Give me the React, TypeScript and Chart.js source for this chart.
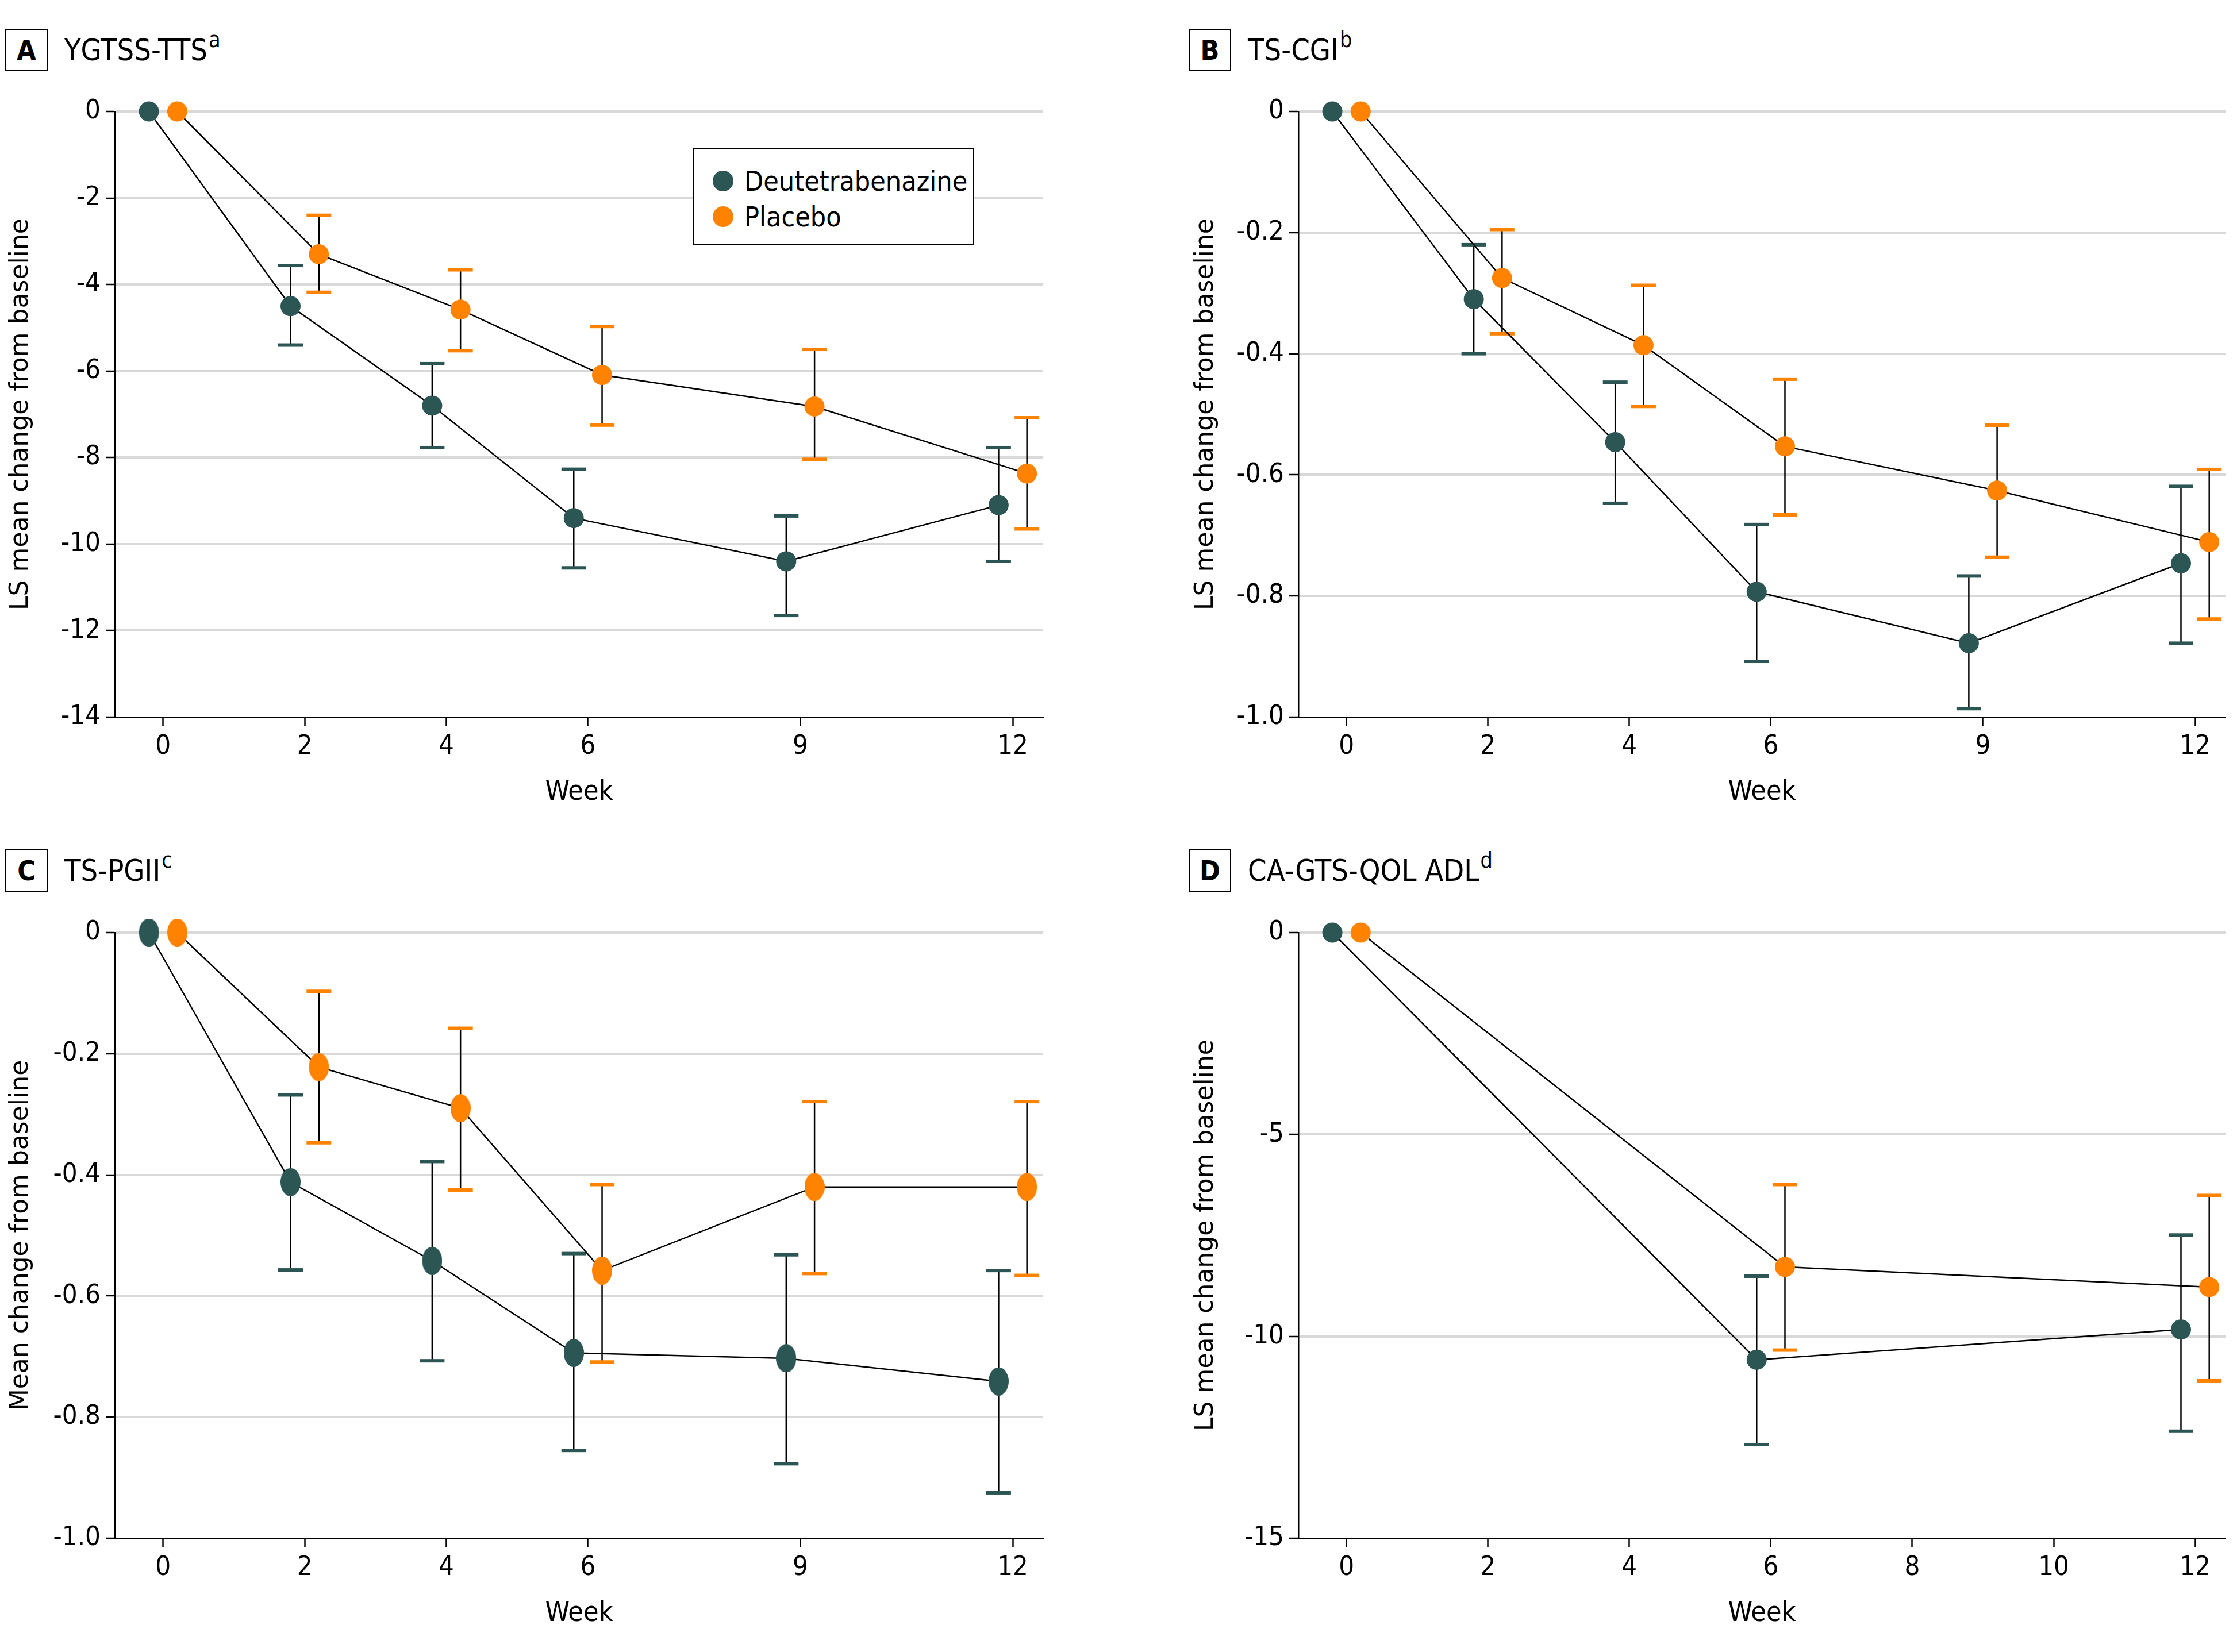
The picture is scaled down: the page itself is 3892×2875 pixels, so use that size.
import React, { useEffect, useRef } from 'react';
import { Chart, registerables } from 'chart.js';

Chart.register(...registerables);

// ---------------- data ----------------
const seriesNames = ['Deutetrabenazine', 'Placebo'];

const weeksMain = [0, 2, 4, 6, 9, 12];
const weeksAdl = [0, 6, 12];
const weekTicksMain = [0, 2, 4, 6, 9, 12];
const weekTicksAdl = [0, 2, 4, 6, 8, 10, 12];

// A: YGTSS-TTS
const ttsDeut = [0, -4.5, -6.8, -9.4, -10.4, -9.1];
const ttsDeutLow = [null, -5.4, -7.77, -10.55, -11.65, -10.4];
const ttsDeutHigh = [null, -3.56, -5.83, -8.27, -9.35, -7.77];
const ttsPlac = [0, -3.3, -4.58, -6.09, -6.82, -8.37];
const ttsPlacLow = [null, -4.18, -5.53, -7.25, -8.04, -9.65];
const ttsPlacHigh = [null, -2.4, -3.66, -4.97, -5.5, -7.08];
const ttsYTicks = [0, -2, -4, -6, -8, -10, -12, -14];
const ttsYLabels = ['0', '-2', '-4', '-6', '-8', '-10', '-12', '-14'];

// B: TS-CGI
const cgiDeut = [0, -0.31, -0.546, -0.793, -0.878, -0.746];
const cgiDeutLow = [null, -0.4, -0.647, -0.908, -0.986, -0.878];
const cgiDeutHigh = [null, -0.22, -0.447, -0.682, -0.767, -0.619];
const cgiPlac = [0, -0.275, -0.386, -0.553, -0.626, -0.711];
const cgiPlacLow = [null, -0.367, -0.487, -0.666, -0.736, -0.838];
const cgiPlacHigh = [null, -0.195, -0.287, -0.442, -0.518, -0.591];
const fracYTicks = [0, -0.2, -0.4, -0.6, -0.8, -1.0];
const fracYLabels = ['0', '-0.2', '-0.4', '-0.6', '-0.8', '-1.0'];

// C: TS-PGII
const pgiiDeut = [0, -0.412, -0.542, -0.694, -0.703, -0.741];
const pgiiDeutLow = [null, -0.557, -0.707, -0.855, -0.877, -0.925];
const pgiiDeutHigh = [null, -0.268, -0.378, -0.53, -0.532, -0.558];
const pgiiPlac = [0, -0.222, -0.29, -0.558, -0.42, -0.42];
const pgiiPlacLow = [null, -0.347, -0.425, -0.709, -0.563, -0.566];
const pgiiPlacHigh = [null, -0.097, -0.158, -0.416, -0.279, -0.279];

// D: CA-GTS-QOL ADL
const adlDeut = [0, -10.58, -9.83];
const adlDeutLow = [null, -12.68, -12.35];
const adlDeutHigh = [null, -8.51, -7.49];
const adlPlac = [0, -8.28, -8.78];
const adlPlacLow = [null, -10.34, -11.1];
const adlPlacHigh = [null, -6.24, -6.51];
const adlYTicks = [0, -5, -10, -15];
const adlYLabels = ['0', '-5', '-10', '-15'];

// ---------------- styles ----------------
const COND = '"Liberation Sans Narrow", "DejaVu Sans Condensed", "Roboto Condensed", "Noto Sans", sans-serif';
const WIDE = '"DejaVu Sans", Verdana, sans-serif';
const DEUT_COLOR = '#2c5654';
const PLAC_COLOR = '#ff8300';
const GRID = '#d9d9d9';
const OFFSET = 0.2;

const panels: any[] = [
  {
    key: 'A', title: 'YGTSS-TTS', sup: 'a', yTitle: 'LS mean change from baseline',
    weeks: weeksMain, xTicks: weekTicksMain,
    deut: ttsDeut, deutLow: ttsDeutLow, deutHigh: ttsDeutHigh,
    plac: ttsPlac, placLow: ttsPlacLow, placHigh: ttsPlacHigh,
    yTicks: ttsYTicks, yLabels: ttsYLabels, yMin: -14,
    box: { left: 9, top: 50 }, titleLeft: 112,
    canvas: { left: 0, top: 130, right: 1860, bottom: 1440 },
    area: { left: 200, right: 1815, top: 194, bottom: 1248 },
    yTitleX: 37, ellipse: false, legend: true,
  },
  {
    key: 'B', title: 'TS-CGI', sup: 'b', yTitle: 'LS mean change from baseline',
    weeks: weeksMain, xTicks: weekTicksMain,
    deut: cgiDeut, deutLow: cgiDeutLow, deutHigh: cgiDeutHigh,
    plac: cgiPlac, placLow: cgiPlacLow, placHigh: cgiPlacHigh,
    yTicks: fracYTicks, yLabels: fracYLabels, yMin: -1,
    box: { left: 2068, top: 50 }, titleLeft: 2171,
    canvas: { left: 2059, top: 130, right: 3892, bottom: 1440 },
    area: { left: 2259, right: 3872, top: 194, bottom: 1248 },
    yTitleX: 2099, ellipse: false, legend: false,
  },
  {
    key: 'C', title: 'TS-PGII', sup: 'c', yTitle: 'Mean change from baseline',
    weeks: weeksMain, xTicks: weekTicksMain,
    deut: pgiiDeut, deutLow: pgiiDeutLow, deutHigh: pgiiDeutHigh,
    plac: pgiiPlac, placLow: pgiiPlacLow, placHigh: pgiiPlacHigh,
    yTicks: fracYTicks, yLabels: fracYLabels, yMin: -1,
    box: { left: 9, top: 1478 }, titleLeft: 112,
    canvas: { left: 0, top: 1560, right: 1860, bottom: 2875 },
    area: { left: 200, right: 1815, top: 1623, bottom: 2677 },
    yTitleX: 37, ellipse: true, legend: false,
  },
  {
    key: 'D', title: 'CA-GTS-QOL ADL', sup: 'd', yTitle: 'LS mean change from baseline',
    weeks: weeksAdl, xTicks: weekTicksAdl,
    deut: adlDeut, deutLow: adlDeutLow, deutHigh: adlDeutHigh,
    plac: adlPlac, placLow: adlPlacLow, placHigh: adlPlacHigh,
    yTicks: adlYTicks, yLabels: adlYLabels, yMin: -15,
    box: { left: 2068, top: 1478 }, titleLeft: 2171,
    canvas: { left: 2059, top: 1560, right: 3892, bottom: 2875 },
    area: { left: 2259, right: 3872, top: 1623, bottom: 2677 },
    yTitleX: 2099, ellipse: false, legend: false,
  },
];

const errorBarPlugin = {
  id: 'errorBars',
  beforeDatasetsDraw(chart: any) {
    const { ctx, scales } = chart;
    const xs = scales.x;
    const ys = scales.y;
    ctx.save();
    chart.data.datasets.forEach((ds: any) => {
      if (!ds.errLow) return;
      ds.data.forEach((pt: any, i: number) => {
        const lo = ds.errLow[i];
        const hi = ds.errHigh[i];
        if (lo == null || hi == null) return;
        const px = xs.getPixelForValue(pt.x);
        const pLo = ys.getPixelForValue(lo);
        const pHi = ys.getPixelForValue(hi);
        ctx.strokeStyle = '#000';
        ctx.lineWidth = 2.5;
        ctx.beginPath();
        ctx.moveTo(px, pHi);
        ctx.lineTo(px, pLo);
        ctx.stroke();
        ctx.fillStyle = ds.capColor;
        ctx.fillRect(px - 21.5, pHi - 3, 43, 6);
        ctx.fillRect(px - 21.5, pLo - 3, 43, 6);
      });
    });
    ctx.restore();
  },
};

function makeEllipse(color: string, w: number, h: number) {
  const c = document.createElement('canvas');
  c.width = w;
  c.height = h;
  const g = c.getContext('2d')!;
  g.fillStyle = color;
  g.beginPath();
  g.ellipse(w / 2, h / 2, w / 2, h / 2, 0, 0, Math.PI * 2);
  g.fill();
  return c;
}

function Panel({ cfg }: { cfg: any }) {
  const ref = useRef<HTMLCanvasElement>(null);
  const cw = cfg.canvas.right - cfg.canvas.left;
  const ch = cfg.canvas.bottom - cfg.canvas.top;

  useEffect(() => {
    const canvas = ref.current!;
    const mk = (name: string, vals: number[], lo: any[], hi: any[], color: string, off: number) => {
      const ds: any = {
        label: name,
        data: cfg.weeks.map((w: number, i: number) => ({ x: w + off, y: vals[i] })),
        borderColor: '#000',
        borderWidth: 2.5,
        backgroundColor: color,
        pointBackgroundColor: color,
        pointBorderWidth: 0,
        pointRadius: 17.5,
        pointHoverRadius: 17.5,
        showLine: true,
        tension: 0,
        fill: false,
        clip: false,
        errLow: lo,
        errHigh: hi,
        capColor: color,
      };
      if (cfg.ellipse) ds.pointStyle = makeEllipse(color, 35, 49);
      return ds;
    };
    const xTitleFont = 48;
    const yTitleFont = 44;
    const chart = new Chart(canvas, {
      type: 'line',
      data: {
        datasets: [
          mk(seriesNames[0], cfg.deut, cfg.deutLow, cfg.deutHigh, DEUT_COLOR, -OFFSET),
          mk(seriesNames[1], cfg.plac, cfg.placLow, cfg.placHigh, PLAC_COLOR, OFFSET),
        ],
      },
      options: {
        responsive: false,
        animation: false,
        events: [],
        layout: {
          padding: {
            left: 0,
            top: cfg.area.top - cfg.canvas.top,
            right: cfg.canvas.right - cfg.area.right,
            bottom: 0,
          },
        },
        plugins: {
          legend: { display: false },
          tooltip: { enabled: false },
        },
        scales: {
          x: {
            type: 'linear',
            min: -0.68,
            max: 12.43,
            afterBuildTicks: (s: any) => {
              s.ticks = cfg.xTicks.map((v: number) => ({ value: v }));
            },
            afterFit: (s: any) => {
              s.height = cfg.canvas.bottom - cfg.area.bottom;
            },
            ticks: {
              autoSkip: false,
              maxRotation: 0,
              color: '#000',
              padding: 8,
              font: { family: COND, size: 47 },
              callback: (v: any) => String(v),
            },
            grid: {
              display: true,
              drawOnChartArea: false,
              drawTicks: true,
              tickLength: 16,
              tickColor: '#000',
              tickWidth: 2.5,
            },
            border: { display: true, color: '#000', width: 3 },
            title: {
              display: true,
              text: 'Week',
              color: '#000',
              font: { family: COND, size: xTitleFont },
              padding: {
                top: 0,
                bottom: cfg.canvas.bottom - (cfg.area.bottom + 132) - (xTitleFont * 1.2) / 2,
              },
            },
          },
          y: {
            type: 'linear',
            min: cfg.yMin,
            max: 0,
            afterBuildTicks: (s: any) => {
              s.ticks = cfg.yTicks.map((v: number) => ({ value: v }));
            },
            afterFit: (s: any) => {
              s.width = cfg.area.left - cfg.canvas.left;
            },
            ticks: {
              color: '#000',
              padding: 9,
              font: { family: COND, size: 47 },
              callback: (v: any) => {
                const idx = cfg.yTicks.indexOf(v);
                return idx >= 0 ? cfg.yLabels[idx] : '';
              },
            },
            grid: {
              color: (c: any) => (c.tick && c.tick.value === cfg.yMin ? 'rgba(0,0,0,0)' : GRID),
              lineWidth: 4,
              drawTicks: true,
              tickLength: 16,
              tickColor: '#000',
              tickWidth: 2.5,
            },
            border: { display: true, color: '#000', width: 2.5 },
            title: {
              display: true,
              text: cfg.yTitle,
              color: '#000',
              font: { family: WIDE, size: yTitleFont },
              padding: { top: cfg.yTitleX - cfg.canvas.left - (yTitleFont * 1.2) / 2, bottom: 0 },
            },
          },
        },
      } as any,
      plugins: [errorBarPlugin as any],
    });
    return () => chart.destroy();
  }, []);

  return (
    <>
      <canvas
        ref={ref}
        width={cw}
        height={ch}
        style={{ position: 'absolute', left: cfg.canvas.left, top: cfg.canvas.top, width: cw, height: ch }}
      />
      <div
        style={{
          position: 'absolute', left: cfg.box.left, top: cfg.box.top, width: 74, height: 74,
          border: '2.5px solid #000', boxSizing: 'border-box', display: 'flex',
          alignItems: 'center', justifyContent: 'center',
          fontFamily: COND, fontWeight: 'bold', fontSize: 48, color: '#000', lineHeight: 1,
        }}
      >
        {cfg.key}
      </div>
      <div
        style={{
          position: 'absolute', left: cfg.titleLeft, top: cfg.box.top, height: 74,
          display: 'flex', alignItems: 'center', fontFamily: COND, fontSize: 52,
          color: '#000', lineHeight: 1, whiteSpace: 'nowrap',
        }}
      >
        <span>
          {cfg.title}
          <sup style={{ fontSize: '0.72em', verticalAlign: 'top', position: 'relative', top: -10, marginLeft: 2 }}>{cfg.sup}</sup>
        </span>
      </div>
      {cfg.legend && (
        <div
          style={{
            position: 'absolute', left: 1205, top: 258, width: 490, height: 168,
            border: '2.5px solid #000', boxSizing: 'border-box', background: '#fff',
            fontFamily: COND, fontSize: 48, color: '#000',
          }}
        >
          {[DEUT_COLOR, PLAC_COLOR].map((c, i) => (
            <div
              key={i}
              style={{ position: 'absolute', left: 0, top: 55 + i * 62 - 30, height: 60, display: 'flex', alignItems: 'center' }}
            >
              <div style={{ width: 36, height: 36, borderRadius: '50%', background: c, marginLeft: 33 }} />
              <div style={{ marginLeft: 19, lineHeight: 1 }}>{seriesNames[i]}</div>
            </div>
          ))}
        </div>
      )}
    </>
  );
}

export default function App() {
  return (
    <div style={{ position: 'absolute', left: 0, top: 0, width: 3892, height: 2875, background: '#fff', overflow: 'hidden' }}>
      {panels.map((p) => (
        <Panel key={p.key} cfg={p} />
      ))}
    </div>
  );
}
